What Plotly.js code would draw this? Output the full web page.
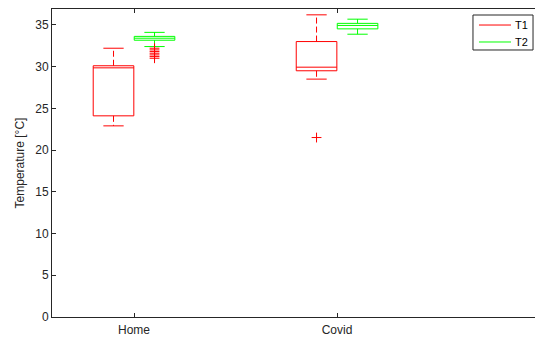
<!DOCTYPE html>
<html>
<head>
<meta charset="utf-8">
<script src="https://cdn.plot.ly/plotly-3.0.1.min.js"></script>
<style>html,body{margin:0;padding:0;overflow:hidden;background:#fff}#chart{width:535px;height:339px}</style>
</head>
<body>
<div id="chart"></div>
<script>
// Data
const categories = ['Home', 'Covid'];
const seriesNames = ['T1', 'T2'];
const seriesColors = ['#ff0000', '#00ff00'];

const T1_min    = [22.9, 28.5];
const T1_q1     = [24.1, 29.5];
const T1_median = [29.85, 29.93];
const T1_q3     = [30.1, 33.0];
const T1_max    = [32.2, 36.2];
const T1_outliers = [[], [21.5]];

const T2_min    = [32.4, 33.88];
const T2_q1     = [33.16, 34.52];
const T2_median = [33.4, 34.93];
const T2_q3     = [33.62, 35.18];
const T2_max    = [34.1, 35.68];
const T2_outliers = [[32.2, 32.0, 31.8, 31.6, 31.4, 31.2, 31.0], []];

const stats = [
  {min: T1_min, q1: T1_q1, med: T1_median, q3: T1_q3, max: T1_max, out: T1_outliers},
  {min: T2_min, q1: T2_q1, med: T2_median, q3: T2_q3, max: T2_max, out: T2_outliers}
];

const offsets = [-0.101, 0.101];
const halfW = 0.1;
const capHalf = 0.05;

const traces = [];
stats.forEach((s, si) => {
  const color = seriesColors[si];
  categories.forEach((c, ci) => {
    const xc = ci + 1 + offsets[si];
    const x0 = xc - halfW, x1 = xc + halfW;
    traces.push({type: 'scatter', mode: 'lines', x: [x0, x1, x1, x0, x0],
      y: [s.q1[ci], s.q1[ci], s.q3[ci], s.q3[ci], s.q1[ci]],
      line: {color: color, width: 1}, name: seriesNames[si], showlegend: false, hoverinfo: 'skip'});
    traces.push({type: 'scatter', mode: 'lines', x: [x0, x1], y: [s.med[ci], s.med[ci]],
      line: {color: color, width: 1}, showlegend: false, hoverinfo: 'skip'});
    traces.push({type: 'scatter', mode: 'lines', x: [xc, xc, null, xc, xc],
      y: [s.q3[ci], s.max[ci], null, s.q1[ci], s.min[ci]],
      line: {color: color, width: 1, dash: '6px,3px'}, showlegend: false, hoverinfo: 'skip'});
    traces.push({type: 'scatter', mode: 'lines', x: [xc - capHalf, xc + capHalf, null, xc - capHalf, xc + capHalf],
      y: [s.max[ci], s.max[ci], null, s.min[ci], s.min[ci]],
      line: {color: color, width: 1}, showlegend: false, hoverinfo: 'skip'});
    if (s.out[ci].length) {
      traces.push({type: 'scatter', mode: 'markers', x: s.out[ci].map(() => xc), y: s.out[ci],
        marker: {symbol: 'cross-thin', size: 7, color: '#ff0000', line: {color: '#ff0000', width: 1}},
        showlegend: false, hoverinfo: 'skip'});
    }
  });
});

// Custom legend (MATLAB style) in paper coordinates
const axisColor = '#262626';
const shapes = [{type: 'rect', xref: 'paper', yref: 'paper', x0: 0.8716, x1: 0.9959, y0: 0.8669, y1: 0.9805,
  line: {color: axisColor, width: 1}, fillcolor: '#fff', layer: 'above'}];
const annotations = [];
const legendY = [0.948, 0.8929];
seriesNames.forEach((n, i) => {
  shapes.push({type: 'line', xref: 'paper', yref: 'paper', x0: 0.884, x1: 0.9503, y0: legendY[i], y1: legendY[i],
    line: {color: seriesColors[i], width: 1}, layer: 'above'});
  annotations.push({xref: 'paper', yref: 'paper', x: 0.9545, y: legendY[i], xanchor: 'left', yanchor: 'middle',
    text: n, showarrow: false, font: {size: 11, color: '#000'}});
});

const layout = {
  width: 535, height: 339,
  margin: {l: 52, r: 0, t: 9, b: 22},
  paper_bgcolor: '#fff', plot_bgcolor: '#fff',
  font: {family: 'Liberation Sans, Arial, sans-serif', size: 12, color: axisColor},
  showlegend: false,
  shapes: shapes,
  annotations: annotations,
  xaxis: {range: [0.596, 2.975], tickvals: [1, 2], ticktext: categories, ticks: 'inside', ticklen: 4,
    tickcolor: axisColor, showline: true, linecolor: axisColor, linewidth: 1, mirror: 'ticks',
    showgrid: false, zeroline: false, fixedrange: true, ticklabelstandoff: 2},
  yaxis: {range: [0, 36.9], tickvals: [0, 5, 10, 15, 20, 25, 30, 35], ticks: 'inside', ticklen: 4,
    tickcolor: axisColor, showline: true, linecolor: axisColor, linewidth: 1, mirror: false,
    showgrid: false, zeroline: false, fixedrange: true,
    title: {text: 'Temperature [°C]', font: {size: 12, color: axisColor}, standoff: 8}}
};

Plotly.newPlot('chart', traces, layout, {displayModeBar: false, staticPlot: true});
</script>
</body>
</html>
